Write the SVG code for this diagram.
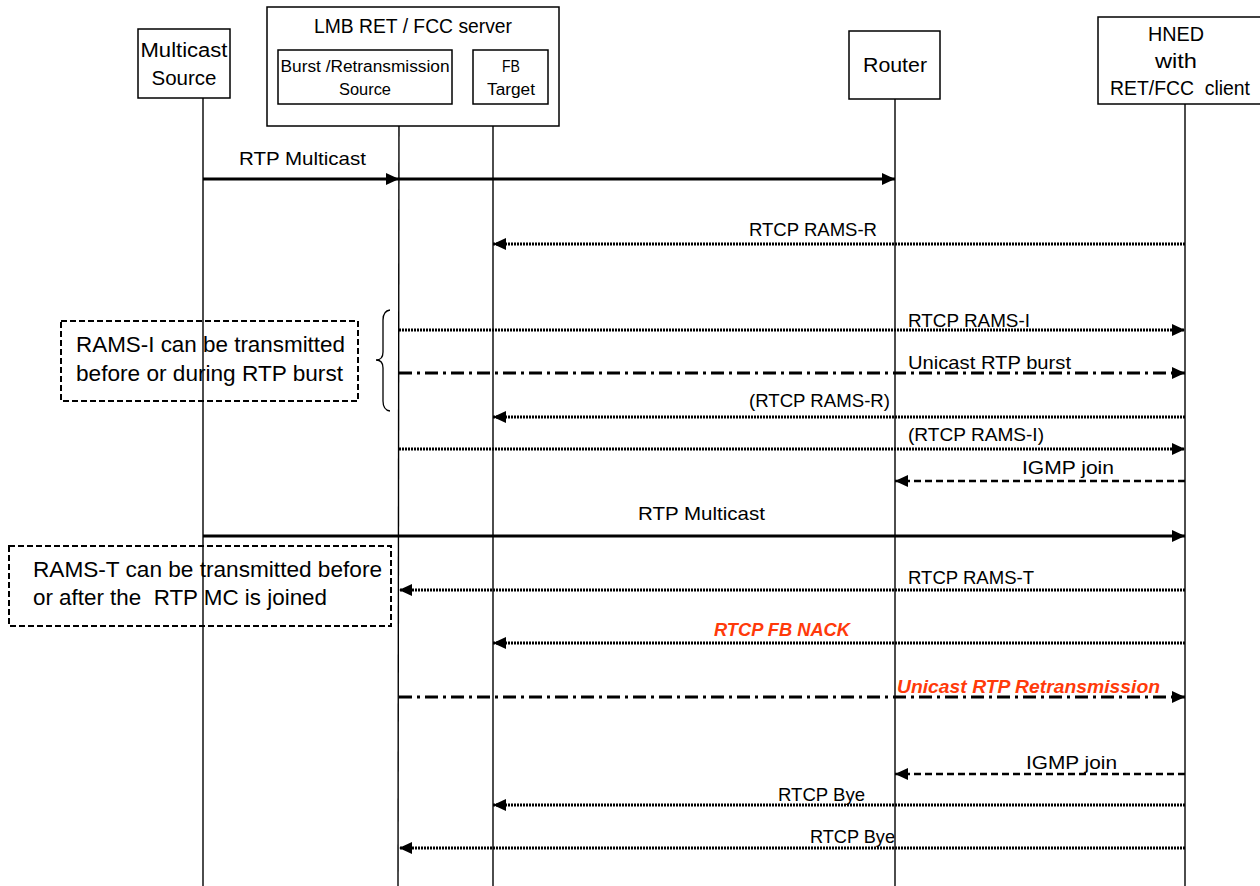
<svg xmlns="http://www.w3.org/2000/svg" width="1260" height="886" viewBox="0 0 1260 886">
<style>
text{font-family:"Liberation Sans",Arial,sans-serif;fill:#000;white-space:pre}
.box{fill:#fff;stroke:#000;stroke-width:1.5}
.life{stroke:#000;stroke-width:1.4;fill:none}
.nt{font-size:20px;text-anchor:middle}
.st{font-size:16px;text-anchor:middle}
.lbl{font-size:19px}
.red{fill:#ff3a0a;font-weight:bold;font-style:italic}
.note{fill:none;stroke:#000;stroke-width:2;stroke-dasharray:6 3}
.nx{font-size:22px}
.solid{stroke:#000;stroke-width:3;fill:none}
.dot{stroke:#000;stroke-width:3;stroke-dasharray:2 1;fill:none}
.dd{stroke:#000;stroke-width:3;stroke-dasharray:13 5 3 5;fill:none}
.dash{stroke:#000;stroke-width:2.6;stroke-dasharray:7 4;fill:none}
</style>
<defs>
<marker id="ah" viewBox="0 0 13 12" refX="13" refY="6" markerWidth="13" markerHeight="12" markerUnits="userSpaceOnUse" orient="auto"><path d="M0,0 L13,6 L0,12 z" fill="#000"/></marker>
</defs>
<rect width="1260" height="886" fill="#fff"/>

<g id="lifelines">
<line class="life" x1="203" y1="98" x2="203" y2="886"/>
<line class="life" x1="399" y1="104" x2="398" y2="886"/>
<line class="life" x1="493" y1="104" x2="493" y2="886"/>
<line class="life" x1="895" y1="99" x2="895" y2="886"/>
<line class="life" x1="1185" y1="104" x2="1185" y2="886"/>
</g>

<g id="node-multicast-source">
<rect class="box" x="138" y="29" width="92" height="69"/>
<text class="nt" x="184" y="57" textLength="87" lengthAdjust="spacingAndGlyphs">Multicast</text>
<text class="nt" x="184" y="85" textLength="65" lengthAdjust="spacingAndGlyphs">Source</text>
</g>

<g id="node-lmb-server">
<rect class="box" x="267" y="7" width="292" height="119"/>
<text class="nt" x="413" y="33" textLength="198" lengthAdjust="spacingAndGlyphs">LMB RET / FCC server</text>
<g id="node-burst-source">
<rect class="box" x="278" y="50" width="174" height="54"/>
<text class="st" x="365" y="72" textLength="169" lengthAdjust="spacingAndGlyphs">Burst /Retransmission</text>
<text class="st" x="365" y="95" textLength="52" lengthAdjust="spacingAndGlyphs">Source</text>
</g>
<g id="node-fb-target">
<rect class="box" x="473" y="50" width="75" height="54"/>
<text class="st" x="511" y="72" textLength="18" lengthAdjust="spacingAndGlyphs">FB</text>
<text class="st" x="511" y="95" textLength="48" lengthAdjust="spacingAndGlyphs">Target</text>
</g>
</g>

<g id="node-router">
<rect class="box" x="849" y="31" width="91" height="68"/>
<text class="nt" x="895" y="72" textLength="64" lengthAdjust="spacingAndGlyphs">Router</text>
</g>

<g id="node-hned">
<rect class="box" x="1098" y="17" width="170" height="87"/>
<text class="nt" x="1176" y="41" textLength="56" lengthAdjust="spacingAndGlyphs">HNED</text>
<text class="nt" x="1176" y="68" textLength="42" lengthAdjust="spacingAndGlyphs">with</text>
<text class="nt" x="1180" y="95" textLength="140" lengthAdjust="spacingAndGlyphs">RET/FCC  client</text>
</g>

<g id="note-rams-i">
<rect class="note" x="61" y="321" width="297" height="80"/>
<text class="nx" x="76" y="352" textLength="269" lengthAdjust="spacingAndGlyphs">RAMS-I can be transmitted</text>
<text class="nx" x="76" y="381" textLength="267" lengthAdjust="spacingAndGlyphs">before or during RTP burst</text>
<path d="M390,310 Q383,311 383,320 L383,352 Q383,360 376,360 Q383,360 383,368 L383,401 Q383,410 390,411" fill="none" stroke="#000" stroke-width="1.3"/>
</g>

<g id="note-rams-t">
<rect class="note" x="9" y="546" width="382" height="80"/>
<text class="nx" x="33" y="577" textLength="349" lengthAdjust="spacingAndGlyphs">RAMS-T can be transmitted before</text>
<text class="nx" x="33" y="605" textLength="294" lengthAdjust="spacingAndGlyphs">or after the  RTP MC is joined</text>
</g>

<g id="connectors">
<line class="solid" x1="203" y1="179" x2="399" y2="179" marker-end="url(#ah)"/>
<line class="solid" x1="399" y1="179" x2="895" y2="179" marker-end="url(#ah)"/>
<line class="dot" x1="1185" y1="244" x2="493" y2="244" marker-end="url(#ah)"/>
<line class="dot" x1="399" y1="330" x2="1185" y2="330" marker-end="url(#ah)"/>
<line class="dd" x1="399" y1="373" x2="1185" y2="373" marker-end="url(#ah)"/>
<line class="dot" x1="1185" y1="417" x2="493" y2="417" marker-end="url(#ah)"/>
<line class="dot" x1="399" y1="449" x2="1185" y2="449" marker-end="url(#ah)"/>
<line class="dash" x1="1185" y1="481" x2="895" y2="481" marker-end="url(#ah)"/>
<line class="solid" x1="203" y1="536" x2="1185" y2="536" marker-end="url(#ah)"/>
<line class="dot" x1="1185" y1="590" x2="399" y2="590" marker-end="url(#ah)"/>
<line class="dot" x1="1185" y1="643" x2="493" y2="643" marker-end="url(#ah)"/>
<line class="dd" x1="399" y1="697" x2="1185" y2="697" marker-end="url(#ah)"/>
<line class="dash" x1="1185" y1="774" x2="895" y2="774" marker-end="url(#ah)"/>
<line class="dot" x1="1185" y1="805" x2="493" y2="805" marker-end="url(#ah)"/>
<line class="dot" x1="1185" y1="848" x2="399" y2="848" marker-end="url(#ah)"/>

<text class="lbl" x="239" y="165" textLength="127" lengthAdjust="spacingAndGlyphs">RTP Multicast</text>
<text class="lbl" x="749" y="236" textLength="128" lengthAdjust="spacingAndGlyphs">RTCP RAMS-R</text>
<text class="lbl" x="908" y="327" textLength="122" lengthAdjust="spacingAndGlyphs">RTCP RAMS-I</text>
<text class="lbl" x="908" y="369" textLength="163" lengthAdjust="spacingAndGlyphs">Unicast RTP burst</text>
<text class="lbl" x="749" y="407" textLength="141" lengthAdjust="spacingAndGlyphs">(RTCP RAMS-R)</text>
<text class="lbl" x="908" y="441" textLength="136" lengthAdjust="spacingAndGlyphs">(RTCP RAMS-I)</text>
<text class="lbl" x="1022" y="474" textLength="92" lengthAdjust="spacingAndGlyphs">IGMP join</text>
<text class="lbl" x="638" y="520" textLength="127" lengthAdjust="spacingAndGlyphs">RTP Multicast</text>
<text class="lbl" x="908" y="584" textLength="126" lengthAdjust="spacingAndGlyphs">RTCP RAMS-T</text>
<text class="lbl red" x="714" y="636" textLength="136" lengthAdjust="spacingAndGlyphs">RTCP FB NACK</text>
<text class="lbl red" x="897" y="693" textLength="263" lengthAdjust="spacingAndGlyphs">Unicast RTP Retransmission</text>
<text class="lbl" x="1026" y="769" textLength="91" lengthAdjust="spacingAndGlyphs">IGMP join</text>
<text class="lbl" x="778" y="801" textLength="87" lengthAdjust="spacingAndGlyphs">RTCP Bye</text>
<text class="lbl" x="810" y="843" textLength="85" lengthAdjust="spacingAndGlyphs">RTCP Bye</text>
</g>
</svg>
